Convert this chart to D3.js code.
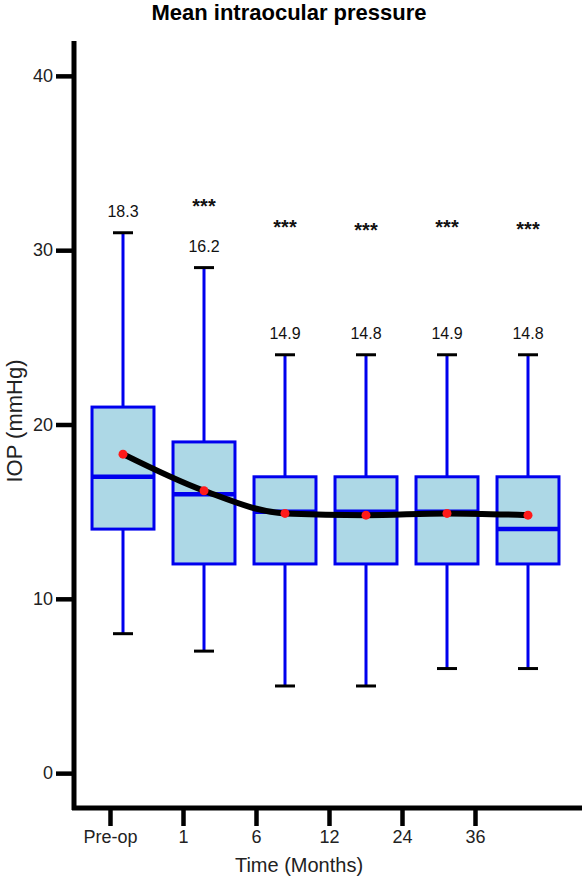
<!DOCTYPE html>
<html lang="en">
<head>
<meta charset="UTF-8">
<title>Mean intraocular pressure</title>
<script src="https://d3js.org/d3.v7.min.js"></script>
<style>
  body { margin: 0; background: #fff; }
  text { font-family: "Liberation Sans", Arial, sans-serif; }
</style>
</head>
<body>
<div id="chart"></div>
<script>
// data
const groups   = ["Pre-op", "1", "6", "12", "24", "36"];
const whiskLo  = [8, 7, 5, 5, 6, 6];
const q1       = [14, 12, 12, 12, 12, 12];
const median   = [17, 16, 15, 15, 15, 14];
const q3       = [21, 19, 17, 17, 17, 17];
const whiskHi  = [31, 29, 24, 24, 24, 24];
const means    = [18.3, 16.2, 14.9, 14.8, 14.9, 14.8];
const stars    = ["", "***", "***", "***", "***", "***"];
const starAt   = [null, 32.6, 31.4, 31.2, 31.4, 31.3];
const yTicks   = [0, 10, 20, 30, 40];

const data = groups.map((g, i) => ({
  g, lo: whiskLo[i], q1: q1[i], med: median[i], q3: q3[i], hi: whiskHi[i],
  mean: means[i], star: stars[i], starAt: starAt[i]
}));

const W = 582, H = 880;
const svg = d3.select("#chart").append("svg")
  .attr("width", W).attr("height", H);

// scales
const y = d3.scaleLinear().domain([-2, 42]).range([808, 41]);
// boxes sit on their own band scale, slightly off the axis ticks (as in the figure)
const xBox = d3.scaleBand().domain(groups).range([82.5, 568.5]).paddingInner(0.235).paddingOuter(0.1175);
const xTick = d3.scalePoint().domain(groups).range([110, 475]);
const cx = d => xBox(d.g) + xBox.bandwidth() / 2;

// title
svg.append("text")
  .attr("x", 289).attr("y", 20)
  .attr("text-anchor", "middle")
  .style("font-size", "22px").style("font-weight", "bold")
  .text("Mean intraocular pressure");

// y axis
const yAxis = svg.append("g")
  .attr("transform", "translate(74,0)")
  .call(d3.axisLeft(y).tickValues(yTicks).tickSize(18).tickPadding(3));
yAxis.select(".domain").remove();
yAxis.selectAll(".tick line").attr("stroke", "#000").attr("stroke-width", 4.5);
yAxis.selectAll(".tick text").style("font-size", "18px").attr("fill", "#222");
svg.append("line")
  .attr("x1", 74).attr("x2", 74).attr("y1", y(42)).attr("y2", y(-2) + 2)
  .attr("stroke", "#000").attr("stroke-width", 5);

// x axis
const xAxis = svg.append("g")
  .attr("transform", "translate(0,808)")
  .call(d3.axisBottom(xTick).tickSize(18).tickPadding(4));
xAxis.select(".domain").remove();
xAxis.selectAll(".tick line").attr("stroke", "#000").attr("stroke-width", 4.5);
xAxis.selectAll(".tick text").style("font-size", "18px").attr("fill", "#222");
svg.append("line")
  .attr("x1", 72).attr("x2", W).attr("y1", 808).attr("y2", 808)
  .attr("stroke", "#000").attr("stroke-width", 5);

// axis titles
svg.append("text")
  .attr("x", 299).attr("y", 872)
  .attr("text-anchor", "middle")
  .style("font-size", "20px").attr("fill", "#222")
  .text("Time (Months)");
svg.append("text")
  .attr("transform", "translate(22,421) rotate(-90)")
  .attr("text-anchor", "middle")
  .style("font-size", "22px").attr("fill", "#222")
  .text("IOP (mmHg)");

const boxes = svg.append("g").selectAll("g").data(data).join("g");

// whiskers
boxes.append("line")
  .attr("x1", cx).attr("x2", cx)
  .attr("y1", d => y(d.hi)).attr("y2", d => y(d.lo))
  .attr("stroke", "#0000ee").attr("stroke-width", 3);
["hi", "lo"].forEach(k => {
  boxes.append("line")
    .attr("x1", d => cx(d) - 10).attr("x2", d => cx(d) + 10)
    .attr("y1", d => y(d[k])).attr("y2", d => y(d[k]))
    .attr("stroke", "#000").attr("stroke-width", 3);
});

// boxes
boxes.append("rect")
  .attr("x", d => xBox(d.g))
  .attr("y", d => y(d.q3))
  .attr("width", xBox.bandwidth())
  .attr("height", d => y(d.q1) - y(d.q3))
  .attr("fill", "#add8e6")
  .attr("stroke", "#0000ee").attr("stroke-width", 3);

// medians
boxes.append("line")
  .attr("x1", d => xBox(d.g)).attr("x2", d => xBox(d.g) + xBox.bandwidth())
  .attr("y1", d => y(d.med)).attr("y2", d => y(d.med))
  .attr("stroke", "#0000ee").attr("stroke-width", 4.5);

// mean labels and significance stars
boxes.append("text")
  .attr("x", cx).attr("y", d => y(d.hi) - 16)
  .attr("text-anchor", "middle")
  .style("font-size", "16px").attr("fill", "#111")
  .text(d => d.mean.toFixed(1));
boxes.filter(d => d.star).append("text")
  .attr("x", cx).attr("y", d => y(d.starAt) + 8)
  .attr("text-anchor", "middle")
  .style("font-size", "20px").style("font-weight", "bold").attr("fill", "#111")
  .text(d => d.star);

// mean line
const line = d3.line().x(cx).y(d => y(d.mean)).curve(d3.curveMonotoneX);
svg.append("path")
  .datum(data)
  .attr("d", line)
  .attr("fill", "none")
  .attr("stroke", "#000").attr("stroke-width", 6)
  .attr("stroke-linecap", "round");
svg.append("g").selectAll("circle").data(data).join("circle")
  .attr("cx", cx).attr("cy", d => y(d.mean))
  .attr("r", 4.5)
  .attr("fill", "#ff1a1a");
</script>
</body>
</html>
